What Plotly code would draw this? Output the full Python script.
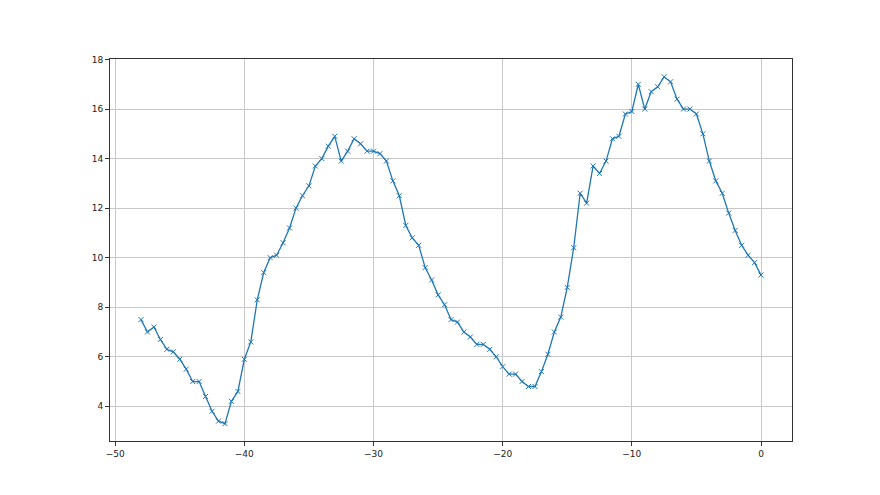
import plotly.graph_objects as go

# x positions: -48 .. 0 in steps of 0.5
x_vals = [i * 0.5 for i in range(-96, 1)]

y_vals = [
    7.5, 7.0, 7.2, 6.7, 6.3, 6.2, 5.9, 5.5, 5.0, 5.0,
    4.4, 3.8, 3.4, 3.3, 4.2, 4.6, 5.9, 6.6, 8.3, 9.4,
    10.0, 10.1, 10.6, 11.2, 12.0, 12.5, 12.9, 13.7, 14.0, 14.5,
    14.9, 13.9, 14.3, 14.8, 14.6, 14.3, 14.3, 14.2, 13.9, 13.1,
    12.5, 11.3, 10.8, 10.5, 9.6, 9.1, 8.5, 8.1, 7.5, 7.4,
    7.0, 6.8, 6.5, 6.5, 6.3, 6.0, 5.6, 5.3, 5.3, 5.0,
    4.8, 4.8, 5.4, 6.1, 7.0, 7.6, 8.8, 10.4, 12.6, 12.2,
    13.7, 13.4, 13.9, 14.8, 14.9, 15.8, 15.9, 17.0, 16.0, 16.7,
    16.9, 17.3, 17.1, 16.4, 16.0, 16.0, 15.8, 15.0, 13.9, 13.1,
    12.6, 11.8, 11.1, 10.5, 10.1, 9.8, 9.3,
]

x_ticks = [-50, -40, -30, -20, -10, 0]
y_ticks = [4, 6, 8, 10, 12, 14, 16, 18]

LINE_COLOR = "#1f77b4"
GRID_COLOR = "#c8c8c8"

fig = go.Figure()

fig.add_trace(
    go.Scatter(
        x=x_vals,
        y=y_vals,
        mode="lines+markers",
        line=dict(color=LINE_COLOR, width=1.3),
        marker=dict(symbol="x-thin", size=5, line=dict(color=LINE_COLOR, width=1)),
        showlegend=False,
    )
)

axis_common = dict(
    showline=True,
    mirror=True,
    linecolor="#333333",
    linewidth=1,
    ticks="outside",
    ticklen=4,
    tickcolor="#333333",
    showgrid=True,
    gridcolor=GRID_COLOR,
    gridwidth=1,
    zeroline=False,
    tickfont=dict(family="DejaVu Sans", size=9, color="#222222"),
)

fig.update_xaxes(
    range=[-50.4, 2.4],
    tickvals=x_ticks,
    ticktext=[str(t).replace("-", "\u2212") for t in x_ticks],
    **axis_common,
)
fig.update_yaxes(
    range=[2.6, 18.02],
    tickvals=y_ticks,
    **axis_common,
)

# page body adds an 8px offset, margins compensate for it
fig.update_layout(
    width=880,
    height=495,
    margin=dict(l=102, r=96, t=51, b=62),
    paper_bgcolor="white",
    plot_bgcolor="white",
)

fig.write_html("out.html")
